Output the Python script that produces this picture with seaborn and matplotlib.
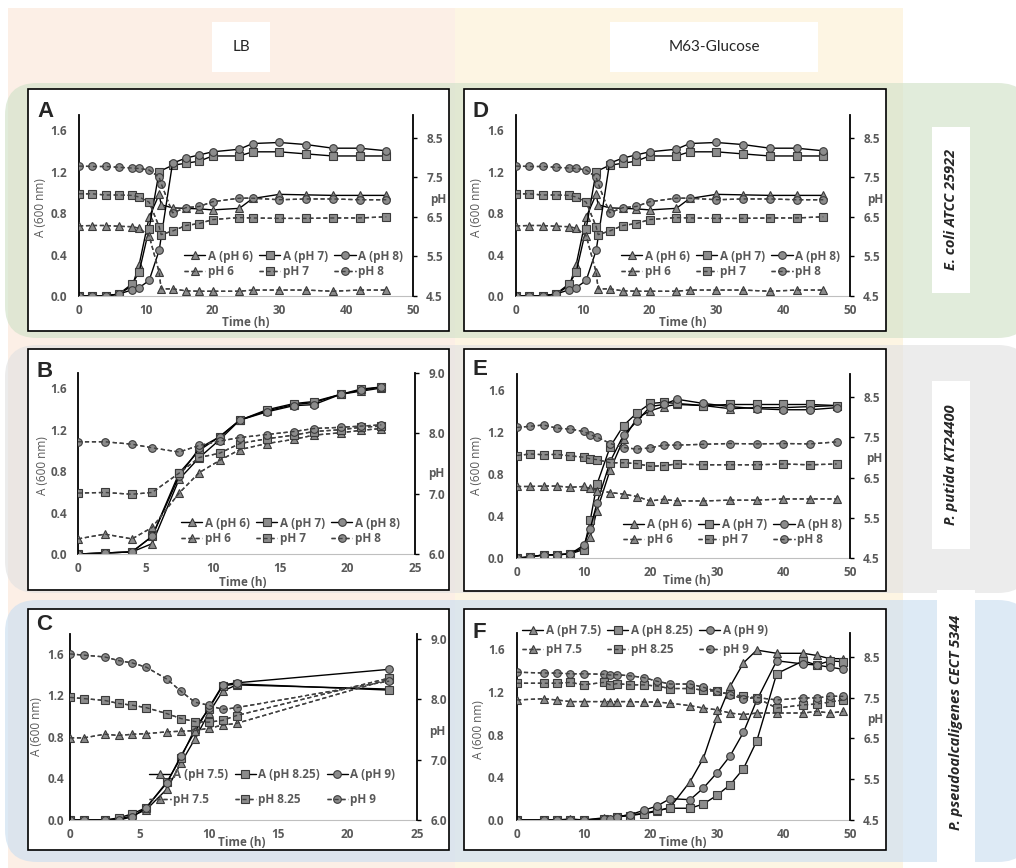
import matplotlib
matplotlib.use("Agg")
import matplotlib.pyplot as plt
from matplotlib.patches import Rectangle, FancyBboxPatch
from matplotlib.lines import Line2D
from matplotlib.transforms import IdentityTransform
import numpy as np
import pandas as pd
import seaborn as sns

nan = np.nan

# ---------------- data ----------------
# E. coli ATCC 25922 (panel A = LB, panel D = M63-glucose, drawn identical)
t_ecoli = [0, 2, 4, 6, 8, 9, 10.5, 12, 12.3, 14, 16, 18, 20, 24, 26, 30, 34, 38, 42, 46]
ecoli_A6 = [0, 0, 0, 0.02, 0.10, 0.30, 0.76, 0.98, 0.88, 0.85, 0.845, 0.84, 0.83, 0.845, 0.94, 0.98, 0.975, 0.97, 0.97, 0.97]
ecoli_A7 = [0, 0, 0, 0.02, 0.12, 0.23, 0.65, 1.20, nan, 1.26, 1.28, 1.30, 1.35, 1.35, 1.39, 1.39, 1.37, 1.35, 1.35, 1.35]
ecoli_A8 = [0, 0, 0, 0.02, 0.06, 0.08, 0.15, 0.44, nan, 1.28, 1.33, 1.36, 1.39, 1.415, 1.47, 1.48, 1.46, 1.425, 1.425, 1.40]
ecoli_pH6 = [6.27, 6.28, 6.28, 6.26, 6.25, 6.21, 6.02, 5.10, 4.68, 4.68, 4.63, 4.62, 4.62, 4.62, 4.65, 4.65, 4.65, 4.62, 4.65, 4.65]
ecoli_pH7 = [7.08, 7.08, 7.05, 7.05, 7.04, 7.00, 6.87, 6.25, 6.05, 6.14, 6.28, 6.33, 6.43, 6.48, 6.47, 6.46, 6.46, 6.47, 6.47, 6.50]
ecoli_pH8 = [7.78, 7.77, 7.77, 7.75, 7.73, 7.72, 7.68, 7.50, 7.34, 6.60, 6.73, 6.76, 6.88, 6.97, 6.97, 6.93, 6.95, 6.95, 6.93, 6.93]

# P. putida, LB (panel B)
t_putLB = [0, 2, 4, 5.5, 7.5, 9, 10.5, 12, 14, 16, 17.5, 19.5, 21, 22.5]
putLB_A6 = [0, 0.01, 0.02, 0.10, 0.72, 0.93, 1.10, 1.29, 1.38, 1.44, 1.46, 1.54, 1.57, 1.60]
putLB_A7 = [0, 0.01, 0.02, 0.17, 0.78, 1.00, 1.13, 1.29, 1.39, 1.45, 1.47, 1.54, 1.59, 1.61]
putLB_A8 = [0, 0.01, 0.02, 0.17, 0.75, 1.02, 1.13, 1.29, 1.37, 1.43, 1.44, 1.54, 1.58, 1.61]
putLB_pH6 = [6.25, 6.33, 6.25, 6.44, 7.01, 7.35, 7.55, 7.73, 7.83, 7.90, 7.97, 8.01, 8.05, 8.08]
putLB_pH7 = [7.01, 7.02, 6.99, 7.02, 7.34, 7.60, 7.67, 7.83, 7.91, 7.97, 8.03, 8.06, 8.10, 8.12]
putLB_pH8 = [7.86, 7.86, 7.82, 7.76, 7.69, 7.80, 7.87, 7.93, 7.98, 8.03, 8.08, 8.10, 8.12, 8.14]

# P. putida, M63-glucose (panel E)
t_putM = [0, 2, 4, 6, 8, 10, 11, 12, 14, 16, 18, 20, 22, 24, 28, 32, 36, 40, 44, 48]
putM_A6 = [0, 0.01, 0.03, 0.03, 0.04, 0.10, 0.20, 0.45, 0.84, 1.13, 1.33, 1.40, 1.44, 1.46, 1.45, 1.42, 1.43, 1.43, 1.44, 1.45]
putM_A7 = [0, 0.01, 0.03, 0.03, 0.04, 0.08, 0.36, 0.70, 1.06, 1.26, 1.38, 1.47, 1.48, 1.47, 1.45, 1.46, 1.46, 1.46, 1.46, 1.45]
putM_A8 = [0, 0.01, 0.03, 0.03, 0.04, 0.12, 0.28, 0.52, 0.92, 1.17, 1.30, 1.44, 1.46, 1.51, 1.47, 1.44, 1.42, 1.41, 1.41, 1.43]
putM_pH6 = [6.28, 6.28, 6.29, 6.29, 6.26, 6.28, 6.23, 6.18, 6.13, 6.09, 6.03, 5.92, 5.96, 5.92, 5.92, 5.94, 5.94, 5.97, 5.97, 5.97]
putM_pH7 = [7.05, 7.09, 7.07, 7.08, 7.04, 7.01, 6.97, 6.95, 6.87, 6.87, 6.85, 6.78, 6.80, 6.84, 6.82, 6.82, 6.82, 6.84, 6.82, 6.84]
putM_pH8 = [7.75, 7.78, 7.81, 7.73, 7.71, 7.65, 7.57, 7.51, 7.35, 7.25, 7.21, 7.24, 7.31, 7.31, 7.33, 7.35, 7.34, 7.35, 7.34, 7.39]

# P. pseudoalcaligenes, LB (panel C)
t_psLB = [0, 1, 2.5, 3.5, 4.5, 5.5, 7, 8, 9, 10, 11, 12, 23]
psLB_A75 = [0, 0, 0, 0.01, 0.04, 0.10, 0.30, 0.55, 0.78, 1.03, 1.24, 1.30, 1.26]
psLB_A825 = [0, 0, 0, 0.02, 0.06, 0.12, 0.37, 0.60, 0.88, 1.07, 1.29, 1.31, 1.25]
psLB_A9 = [0, 0, 0, 0, 0.03, 0.12, 0.36, 0.62, 0.85, 1.08, 1.30, 1.32, 1.45]
psLB_pH75 = [7.36, 7.36, 7.42, 7.40, 7.42, 7.43, 7.46, 7.47, 7.48, 7.52, 7.57, 7.60, 8.33]
psLB_pH825 = [8.03, 8.01, 7.98, 7.93, 7.90, 7.86, 7.76, 7.68, 7.63, 7.62, 7.65, 7.73, 8.35]
psLB_pH9 = [8.75, 8.73, 8.70, 8.64, 8.60, 8.53, 8.33, 8.13, 7.95, 7.90, 7.83, 7.86, 8.30]

# P. pseudoalcaligenes, M63-glucose (panel F)
t_psM = [0, 4, 6, 8, 10, 13, 14, 15, 17, 19, 21, 23, 26, 28, 30, 32, 34, 36, 39, 43, 45, 47, 49]
psM_A75 = [0, 0, 0, 0.01, 0, 0.02, 0.01, 0.03, 0.05, 0.06, 0.08, 0.12, 0.36, 0.58, 0.95, 1.25, 1.47, 1.59, 1.56, 1.56, 1.54, 1.51, 1.51]
psM_A825 = [0, 0, 0, 0, 0, 0.01, 0, 0.03, 0.04, 0.06, 0.09, 0.11, 0.11, 0.15, 0.23, 0.33, 0.48, 0.74, 1.37, 1.49, 1.45, 1.49, 1.48]
psM_A9 = [0, 0, 0, 0, 0, 0.01, 0.01, 0.03, 0.05, 0.09, 0.13, 0.20, 0.19, 0.30, 0.44, 0.60, 0.82, 1.12, 1.49, 1.46, 1.45, 1.43, 1.41]
psM_pH75 = [7.44, 7.47, 7.44, 7.40, 7.40, 7.40, 7.40, 7.40, 7.40, 7.39, 7.39, 7.36, 7.30, 7.24, 7.20, 7.12, 7.08, 7.12, 7.12, 7.12, 7.16, 7.12, 7.16]
psM_pH825 = [7.85, 7.85, 7.85, 7.87, 7.81, 7.87, 7.81, 7.84, 7.81, 7.81, 7.78, 7.72, 7.72, 7.68, 7.65, 7.58, 7.53, 7.49, 7.24, 7.32, 7.34, 7.39, 7.44]
psM_pH9 = [8.12, 8.10, 8.10, 8.08, 8.08, 8.07, 8.05, 8.06, 8.03, 7.99, 7.90, 7.83, 7.83, 7.75, 7.65, 7.57, 7.47, 7.50, 7.44, 7.49, 7.49, 7.53, 7.53]

ph_names_a = ["6", "7", "8"]
ph_names_b = ["7.5", "8.25", "9"]
media = ["LB", "M63-Glucose"]
strains = ["E. coli ATCC 25922", "P. putida KT24400", "P. pseudoalcaligenes CECT 5344"]

# ---------------- style ----------------
W, H = 1016, 868
sns.set_theme(style="white")
plt.rcParams["font.family"] = ["Open Sans", "DejaVu Sans"]

GREY = "#595959"
MFACE = "#8c8c8c"
MEDGE = "#3a3a3a"
DASH = "#404040"
MARKERS = ["^", "s", "o"]
FS = 8.5

fig = plt.figure(figsize=(W / 100, H / 100), dpi=100)
IDT = IdentityTransform()


def rect_px(x0, y0, x1, y1, **kw):
    # pixel box with top-left origin -> patch in display pixels
    fig.add_artist(Rectangle((x0, H - y1), x1 - x0, y1 - y0, transform=IDT, **kw))


def band_px(x0, y0, x1, y1, color):
    fig.add_artist(FancyBboxPatch((x0, H - y1), x1 - x0, y1 - y0,
                                  boxstyle="round,pad=0,rounding_size=32",
                                  transform=IDT, fc=color, ec="none", alpha=0.65, zorder=-15))


def ptext(x, y, s, **kw):
    fig.text(x / W, 1 - y / H, s, **kw)


# background columns and row bands
rect_px(8, 8, 455, 868, fc="#fcefe6", ec="none", zorder=-20)
rect_px(455, 8, 903, 868, fc="#fdf5e3", ec="none", zorder=-20)
band_px(5, 83, 1030, 338, "#d2e2c9")
band_px(5, 345, 1030, 593, "#e2e2e2")
band_px(5, 600, 1030, 862, "#ccdff1")

# column headers
rect_px(212, 22, 270, 72, fc="white", ec="none", zorder=-5)
rect_px(610, 22, 818, 72, fc="white", ec="none", zorder=-5)
ptext(241, 47, media[0], family="Lato", fontsize=11, ha="center", va="center")
ptext(714, 47, media[1], family="Lato", fontsize=11, ha="center", va="center")

# row labels
for (x0, y0, x1, y1), name in zip([(932, 127, 970, 293), (932, 381, 970, 549), (937, 590, 975, 868)], strains):
    rect_px(x0, y0, x1, y1, fc="white", ec="none", zorder=-5)
    ptext((x0 + x1) / 2, (y0 + min(y1, 855)) / 2, name, rotation=90, ha="center", va="center",
          fontsize=10.5, fontweight="bold", fontstyle="italic")


def series(ax, t, v, marker, dashed):
    d = pd.DataFrame({"t": t, "v": v}).dropna()
    style = dict(color=DASH if dashed else "black", linewidth=1,
                 linestyle=(0, (3, 2)) if dashed else "-")
    sns.lineplot(data=d, x="t", y="v", ax=ax, estimator=None, sort=False,
                 marker=marker, markersize=5.5, markerfacecolor=MFACE,
                 markeredgecolor=MEDGE, markeredgewidth=0.8, **style)
    if dashed:
        # the dashed pH line runs over its markers in the original
        sns.lineplot(data=d, x="t", y="v", ax=ax, estimator=None, sort=False, **style)


def panel(letter, box, axbox, t, a_vals, ph_vals, names, xmax, xstep, yl, yr, rticks,
          letter_xy, time_xy, alab_xy, phlab_xy, leg_loc, leg_anchor, leg_space, ypad):
    rect_px(*box, fc="white", ec="black", lw=1.2, zorder=-5)
    l, tp, r, b = axbox
    ax = fig.add_axes([l / W, 1 - b / H, (r - l) / W, (b - tp) / H])
    ax2 = ax.twinx()
    for v, m in zip(a_vals, MARKERS):
        series(ax, t, v, m, False)
    for v, m in zip(ph_vals, MARKERS):
        series(ax2, t, v, m, True)

    ax.set_xlim(0, xmax)
    ax.set_ylim(*yl)
    ax2.set_ylim(*yr)
    ax.set_xticks(np.arange(0, xmax + 1, xstep))
    ax.set_yticks([0, 0.4, 0.8, 1.2, 1.6])
    ax2.set_yticks(rticks)
    ax.yaxis.set_major_formatter("{x:.1f}")
    ax2.yaxis.set_major_formatter("{x:.1f}")
    for a in (ax, ax2):
        a.set_facecolor("none")
        a.set_xlabel("")
        a.set_ylabel("")
        a.spines["top"].set_visible(False)
    ax.spines["right"].set_visible(False)
    ax2.spines["left"].set_visible(False)
    ax2.spines["bottom"].set_visible(False)
    ax.spines["left"].set_color("black")
    ax.spines["left"].set_linewidth(1.3)
    ax2.spines["right"].set_color("black")
    ax2.spines["right"].set_linewidth(1.3)
    ax.spines["bottom"].set_color("#bfbfbf")
    ax.spines["bottom"].set_linewidth(0.8)
    ax.tick_params(axis="x", bottom=False, length=0, pad=6, labelsize=FS, labelcolor=GREY)
    ax.tick_params(axis="y", left=False, length=0, pad=ypad, labelsize=FS, labelcolor=GREY)
    ax2.tick_params(axis="y", right=True, labelright=True, left=False, labelleft=False,
                    length=3, width=1, color="black", direction="out", pad=6.5,
                    labelsize=FS, labelcolor=GREY)
    for lab in ax.get_xticklabels() + ax.get_yticklabels() + ax2.get_yticklabels():
        lab.set_fontweight("bold")

    handles, labels = [], []
    for n, m in zip(names, MARKERS):
        handles.append(Line2D([], [], color="black", lw=1, marker=m, ms=5.5, mfc=MFACE, mec=MEDGE, mew=0.8))
        labels.append(f"A (pH {n})")
        dm = Line2D([], [], color=DASH, lw=1, ls=(0, (3, 2)), marker=m, ms=5.5,
                    mfc=MFACE, mec=MEDGE, mew=0.8)
        dl = Line2D([], [], color=DASH, lw=1, ls=(0, (3, 2)))
        handles.append((dm, dl))
        labels.append(f"pH {n}")
    ax2.legend(handles, labels, ncol=3, loc=leg_loc, bbox_to_anchor=leg_anchor, frameon=False,
               prop={"weight": "bold", "size": FS}, labelcolor=GREY, handlelength=1.8,
               handletextpad=0.2, columnspacing=0.55, labelspacing=leg_space,
               borderaxespad=0, borderpad=0)

    ptext(*letter_xy, letter, family="Liberation Sans", fontsize=16, fontweight="bold", va="baseline")
    ptext(*time_xy, "Time (h)", fontsize=FS, fontweight="bold", color=GREY, ha="center", va="center")
    ptext(*alab_xy, "A (600 nm)", fontsize=FS, color=GREY, rotation=90, ha="center", va="center")
    ptext(*phlab_xy, "pH", fontsize=FS, fontweight="bold", color=GREY, ha="center", va="center")


ecoli_A = [ecoli_A6, ecoli_A7, ecoli_A8]
ecoli_pH = [ecoli_pH6, ecoli_pH7, ecoli_pH8]

panel("A", (28, 89, 449, 331), (79, 115, 413, 296), t_ecoli, ecoli_A, ecoli_pH, ph_names_a,
      50, 10, (0, 1.745), (4.5, 9.07), [4.5, 5.5, 6.5, 7.5, 8.5],
      (37, 117), (246, 322), (40, 208), (438, 199), "lower right", (0.97, 0.10), 0.2, 8.5)
panel("D", (464, 89, 886, 331), (516, 115, 850, 296), t_ecoli, ecoli_A, ecoli_pH, ph_names_a,
      50, 10, (0, 1.745), (4.5, 9.07), [4.5, 5.5, 6.5, 7.5, 8.5],
      (472, 117), (683, 322), (476, 208), (875, 199), "lower right", (0.97, 0.10), 0.2, 8.5)
panel("B", (28, 349, 449, 590), (78, 373, 415, 554), t_putLB,
      [putLB_A6, putLB_A7, putLB_A8], [putLB_pH6, putLB_pH7, putLB_pH8], ph_names_a,
      25, 5, (0, 1.745), (6.0, 9.0), [6.0, 7.0, 8.0, 9.0],
      (37, 377), (243, 582), (42, 466), (436, 473), "lower right", (0.955, 0.05), 0.2, 8)
panel("E", (464, 349, 886, 591), (517, 374, 850, 558), t_putM,
      [putM_A6, putM_A7, putM_A8], [putM_pH6, putM_pH7, putM_pH8], ph_names_a,
      50, 10, (0, 1.75), (4.5, 9.08), [4.5, 5.5, 6.5, 7.5, 8.5],
      (472, 375), (687, 580), (476, 466), (874, 459), "lower right", (0.976, 0.065), 0.2, 9)
panel("C", (28, 609, 449, 850), (70, 634, 417, 820), t_psLB,
      [psLB_A75, psLB_A825, psLB_A9], [psLB_pH75, psLB_pH825, psLB_pH9], ph_names_b,
      25, 5, (0, 1.79), (6.0, 9.08), [6.0, 7.0, 8.0, 9.0],
      (36, 630), (242, 843), (37, 727), (437, 731), "lower right", (0.937, 0.075), 1.0, 4.5)
panel("F", (464, 609, 886, 850), (517, 633, 850, 820), t_psM,
      [psM_A75, psM_A825, psM_A9], [psM_pH75, psM_pH825, psM_pH9], ph_names_b,
      50, 10, (0, 1.75), (4.5, 9.08), [4.5, 5.5, 6.5, 7.5, 8.5],
      (472, 638), (683, 842), (478, 730), (875, 719), "upper left", (0.015, 1.048), 0.5, 9)

fig.savefig("out.png", dpi=100)
